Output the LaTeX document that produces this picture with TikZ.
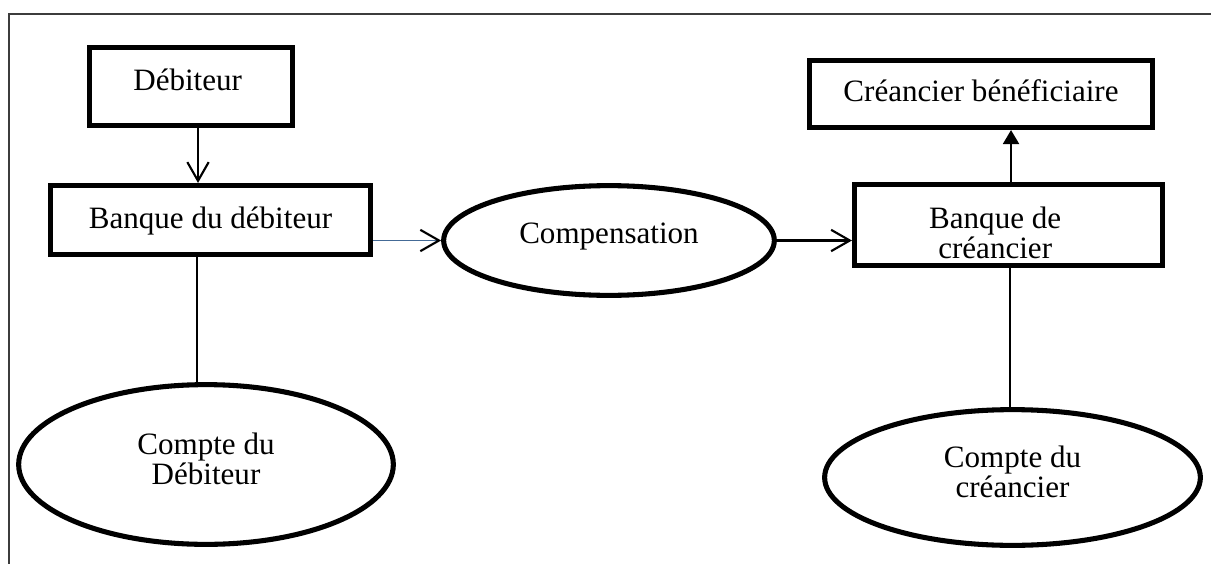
\documentclass[tikz,border=0pt]{standalone}
\usepackage{fontspec}
\setmainfont{Liberation Serif}
\usetikzlibrary{shapes.geometric,arrows.meta}

\definecolor{framegray}{RGB}{60,60,60}
\definecolor{linkblue}{RGB}{68,106,150}

\begin{document}
\begin{tikzpicture}[
  x=0.75pt, y=-0.75pt,
  txt/.style={font=\fontsize{23.3pt}{22.5pt}\selectfont, align=center, inner sep=0pt},
  box/.style={draw=black, line width=3.6pt, rectangle, inner sep=0pt},
  oval/.style={draw=black, line width=3.8pt, ellipse, inner sep=0pt},
  barb/.style={line width=1.6pt, -{Straight Barb[length=14pt, width=16pt]}},
  bluebarb/.style={draw=linkblue, line width=1.4pt, -{Straight Barb[length=14pt, width=16pt, color=black, line width=1.6pt]}},
  tri/.style={line width=1.6pt, -{Triangle[length=10.5pt, width=12pt]}},
  plain/.style={line width=1.2pt},
  frame/.style={draw=framegray, line width=1.4pt}
]
\fill[white] (0,0) rectangle (1211,564);
\useasboundingbox (0,0) rectangle (1211,564);

% page frame: top and left edges only
\coordinate (ftl) at (9,14);
\coordinate (ftr) at (1211,14);
\coordinate (fbl) at (9,564);
\draw[frame] (ftr) -- (ftl) -- (fbl);

% boxes
\node[box, minimum width=152.5pt, minimum height=58.7pt,
      label={[txt, name=debt, xshift=-2.5pt, yshift=4.9pt]center:Débiteur}]
      (deb) at (191,86.5) {};
\node[box, minimum width=240.2pt, minimum height=52pt,
      label={[txt, name=bdebt, yshift=-0.5pt]center:Banque du débiteur}]
      (bdeb) at (210.5,220) {};
\node[oval, minimum width=248pt, minimum height=82.3pt,
      label={[txt, name=compt, yshift=3.2pt]center:Compensation}]
      (comp) at (609,240.5) {};
\node[box, minimum width=231.2pt, minimum height=61pt,
      label={[txt, name=bcret, xshift=-10pt, yshift=-6pt]center:Banque de\\créancier}]
      (bcre) at (1008.5,225) {};
\node[box, minimum width=257.5pt, minimum height=50.5pt,
      label={[txt, name=cbent, yshift=2.8pt]center:Créancier bénéficiaire}]
      (cben) at (981,94) {};
\node[oval, minimum width=281pt, minimum height=119.8pt,
      label={[txt, name=cdebt, yshift=4pt]center:Compte du\\Débiteur}]
      (cdeb) at (206,464.5) {};
\node[oval, minimum width=281.8pt, minimum height=101.8pt,
      label={[txt, name=ccret, yshift=4pt]center:Compte du\\créancier}]
      (ccre) at (1012.5,477.5) {};

% connectors
\draw[barb] ([xshift=5.25pt]deb.south) -- ([xshift=5.25pt]deb.south |- bdeb.north);
\draw[bluebarb] (bdeb.east |- comp.west) -- (comp.west);
\draw[barb] (comp.east) -- (comp.east -| bcre.west);
\draw[plain] ([xshift=-10pt]bdeb.south) -- ([xshift=-10pt]bdeb.south |- cdeb.north);
\draw[tri] ([xshift=1.9pt]bcre.north) -- ([xshift=1.9pt]bcre.north |- cben.south);
\draw[plain] ([xshift=1pt]bcre.south) -- ([xshift=1pt]bcre.south |- ccre.north);
\end{tikzpicture}
\end{document}
